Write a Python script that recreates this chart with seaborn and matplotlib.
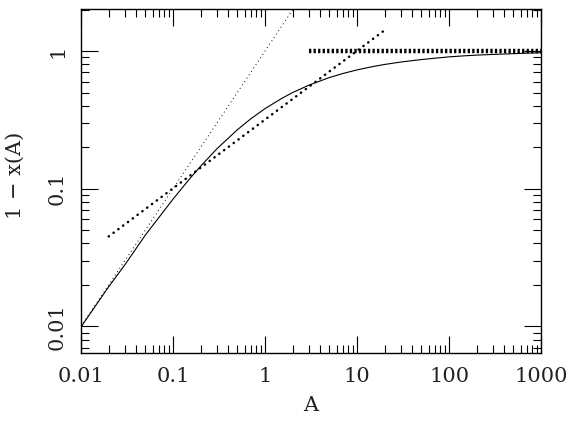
import numpy as np
import pandas as pd
import matplotlib
matplotlib.use("Agg")
import matplotlib.pyplot as plt
import seaborn as sns
from matplotlib.ticker import FixedLocator, LogLocator, NullFormatter

# ---- data ----
A_curve = [0.01, 0.02, 0.03, 0.05, 0.07, 0.1, 0.15, 0.2, 0.3, 0.5, 0.7, 1, 1.5, 2, 3,
           5, 7, 10, 15, 20, 30, 50, 70, 100, 150, 200, 300, 500, 700, 1000]
y_curve = [0.0099, 0.0194, 0.028, 0.046, 0.0616, 0.084, 0.117, 0.146, 0.195, 0.268,
           0.322, 0.382, 0.451, 0.50, 0.566, 0.642, 0.687, 0.73, 0.773, 0.80, 0.833,
           0.868, 0.888, 0.908, 0.925, 0.935, 0.946, 0.958, 0.966, 0.972]

A_linear = [0.01, 2.5]          # thin dotted: 1-x = A
y_linear = [0.01, 2.5]

A_sqrt = [0.02, 20]             # thick dotted: slope 1/2
y_sqrt = [0.045, 1.42]

A_flat = [3, 1000]              # thick dashed: 1-x = 1
y_flat = [1.0, 1.0]

xticks = [0.01, 0.1, 1, 10, 100, 1000]
xticklabels = ["0.01", "0.1", "1", "10", "100", "1000"]
yticks = [0.01, 0.1, 1]
yticklabels = ["0.01", "0.1", "1"]

# ---- figure ----
sns.set_theme(style="ticks")
plt.rcParams['font.family'] = ['DejaVu Serif']
plt.rcParams['mathtext.fontset'] = 'dejavuserif'

fig = plt.figure(figsize=(5.75, 4.21), dpi=100)
ax = fig.add_axes([81/575, (421-353)/421, 460/575, 344.5/421])
ax.set_xscale('log')
ax.set_yscale('log')

sns.lineplot(x=A_curve, y=y_curve, ax=ax, color='black', lw=0.8, sort=False)
sns.lineplot(x=A_linear, y=y_linear, ax=ax, color='black', lw=0.7,
             linestyle=(0, (1, 3.2)), sort=False)
sns.lineplot(x=A_sqrt, y=y_sqrt, ax=ax, color='black', lw=1.8,
             linestyle=(0, (0.1, 2.3)), sort=False,
             dash_capstyle='round', solid_capstyle='round')
sns.lineplot(x=A_flat, y=y_flat, ax=ax, color='black', lw=3.2,
             linestyle=(0, (0.52, 0.5)), sort=False)

ax.set_xlim(0.01, 1000)
ax.set_ylim(0.0064, 2.04)

ax.xaxis.set_major_locator(FixedLocator(xticks))
ax.set_xticklabels(xticklabels)
ax.yaxis.set_major_locator(FixedLocator(yticks))
ax.set_yticklabels(yticklabels, rotation=90, va='center')
ax.xaxis.set_minor_locator(LogLocator(base=10, subs=np.arange(2, 10), numticks=20))
ax.yaxis.set_minor_locator(LogLocator(base=10, subs=np.arange(2, 10), numticks=20))
ax.xaxis.set_minor_formatter(NullFormatter())
ax.yaxis.set_minor_formatter(NullFormatter())

ax.tick_params(which='both', direction='in', top=True, right=True,
               color='black', width=0.8)
ax.tick_params(which='major', length=12, labelsize=15, pad=10, labelcolor='#222222')
ax.tick_params(which='minor', length=6)
for s in ax.spines.values():
    s.set_linewidth(1.0)
    s.set_color('black')

ax.set_xlabel("A", fontsize=15, color='#222222')
ax.set_ylabel("1 − x(A)", fontsize=15, color='#222222')
ax.xaxis.set_label_coords(0.5, -0.125)
ax.yaxis.set_label_coords(-0.122, 0.517)

fig.savefig("out.png", dpi=100)
